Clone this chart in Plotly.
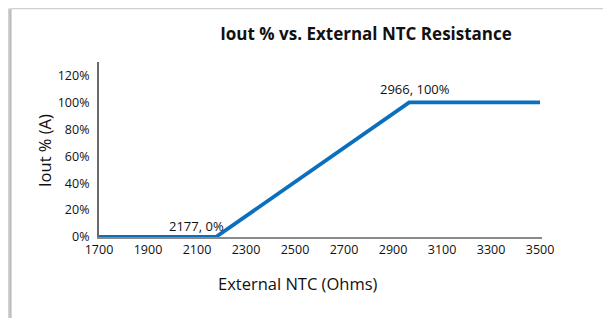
import plotly.graph_objects as go

# Data
ntc_ohms = [1700, 2177, 2966, 3500]
iout_pct = [0, 0, 100, 100]
label_points_x = [2177, 2966]
label_points_y = [0, 100]
x_ticks = [1700, 1900, 2100, 2300, 2500, 2700, 2900, 3100, 3300, 3500]
y_ticks = [0, 20, 40, 60, 80, 100, 120]

FONT = "'Open Sans', Lato, sans-serif"
BLUE = "#0a6fbd"

# page body has an 8px margin, so figure is sized/offset to compensate
W, H = 603, 310
L, R, T, B = 91, 69, 54, 81
PW, PH = W - L - R, H - T - B


def px(xp):
    return (xp - L) / PW


def py(yp):
    return 1 - (yp - T) / PH


fig = go.Figure()
fig.add_trace(go.Scatter(
    x=ntc_ohms, y=iout_pct, mode="lines",
    line=dict(color=BLUE, width=3.8), hoverinfo="skip", showlegend=False,
))

shifts = [(-19, 11), (6, 13)]
for (xv, yv), (dx, dy) in zip(zip(label_points_x, label_points_y), shifts):
    fig.add_annotation(x=xv, y=yv, text=f"{xv}, {yv}%", showarrow=False,
                       xshift=dx, yshift=dy, font=dict(size=13, color="#111", family=FONT))

# Axis titles
fig.add_annotation(xref="paper", yref="paper", x=px(290), y=py(275), text="External NTC (Ohms)",
                   showarrow=False, xanchor="center", yanchor="middle",
                   font=dict(size=16.5, color="#111", family=FONT))
fig.add_annotation(xref="paper", yref="paper", x=px(36), y=py(143), text="Iout % (A)",
                   showarrow=False, xanchor="center", yanchor="middle", textangle=-90,
                   font=dict(size=16.5, color="#111", family=FONT))

# Frame decoration (top border + left shadow)
fig.add_shape(type="line", xref="paper", yref="paper", x0=px(3), x1=px(W + 5),
              y0=py(0.5), y1=py(0.5), line=dict(color="#cfcfcf", width=1.5), layer="below")
shadow = ["#d2d2d2", "#c6c6c6", "#bdbdbd"]
for i, c in enumerate(shadow):
    fig.add_shape(type="rect", xref="paper", yref="paper", x0=px(i), x1=px(i + 1),
                  y0=py(H + 5), y1=py(0.5), line=dict(width=0), fillcolor=c, layer="below")
fig.add_shape(type="line", xref="paper", yref="paper", x0=px(3.5), x1=px(3.5),
              y0=py(H + 5), y1=py(0.5), line=dict(color="#d8d8d8", width=1), layer="below")

fig.update_layout(
    width=W, height=H,
    margin=dict(l=L, r=R, t=T, b=B),
    paper_bgcolor="white", plot_bgcolor="white",
    font=dict(family=FONT, color="#111", size=12),
    title=dict(text="<b>Iout % vs. External NTC Resistance</b>", x=358 / W, xanchor="center",
               y=1 - 26 / H, yanchor="middle", font=dict(size=17, family=FONT, color="#111")),
    xaxis=dict(range=[1700, 3508], tickvals=x_ticks, ticktext=[str(v) for v in x_ticks],
               showgrid=False, zeroline=False, showline=True, linecolor="#8a8a8a", linewidth=2,
               ticks="", tickfont=dict(size=12.5)),
    yaxis=dict(range=[0, 130], tickvals=y_ticks, ticktext=[f"{v}%" for v in y_ticks],
               showgrid=False, zeroline=False, showline=True, linecolor="#6a6a6a", linewidth=2,
               ticks="", tickfont=dict(size=12.5), ticklabelstandoff=5),
)

fig.write_html("out.html")
